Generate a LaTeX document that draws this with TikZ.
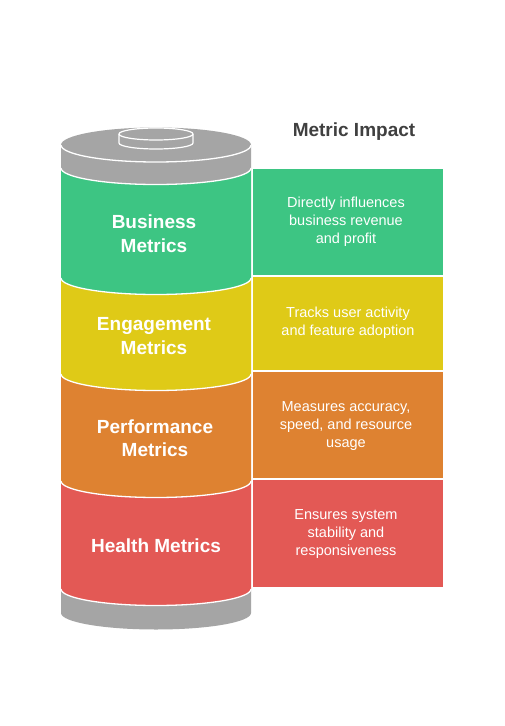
\documentclass[tikz,border=0pt]{standalone}
\usepackage{fontspec}
\setmainfont{Liberation Sans}
\definecolor{cgreen}{HTML}{3DC583}
\definecolor{cyellow}{HTML}{DFCA17}
\definecolor{corange}{HTML}{DE8231}
\definecolor{cred}{HTML}{E35955}
\definecolor{cgray}{HTML}{A5A5A5}
\definecolor{ctitle}{HTML}{404040}
\newcommand\cylseg[4]{%
  \fill[#1] (61,-#2) -- (61,-#3) arc[start angle=180,end angle=360,x radius=95pt,y radius=16.5pt] -- (251,-#2) -- cycle;
  \ifx#4y\draw[white,line width=1.3pt] (61,-#3) arc[start angle=180,end angle=360,x radius=95pt,y radius=16.5pt];\fi
}
\tikzset{
  cyltext/.style={text=white,align=center,inner sep=0pt,font=\bfseries\fontsize{19}{23.5}\selectfont},
  boxtext/.style={text=white,align=center,inner sep=0pt,font=\fontsize{14.5}{18}\selectfont},
}
\begin{document}
\begin{tikzpicture}[x=1pt,y=1pt]
\useasboundingbox (0,0) rectangle (504,-726);
\fill[white] (0,0) rectangle (504,-726);
% cylinder, bottom to top
\cylseg{cgray}{589}{613}{n}
\cylseg{cred}{481}{589}{y}
\cylseg{corange}{374}{481}{y}
\cylseg{cyellow}{278}{374}{y}
\cylseg{cgreen}{168}{278}{y}
\cylseg{cgray}{145}{168}{y}
\fill[cgray] (156,-145) ellipse[x radius=95pt,y radius=17.5pt];
\draw[white,line width=1.3pt] (61,-145) arc[start angle=180,end angle=360,x radius=95pt,y radius=17pt];
% knob
\fill[cgray] (119,-134) -- (119,-143) arc[start angle=180,end angle=360,x radius=37pt,y radius=6pt] -- (193,-134) -- cycle;
\draw[white,line width=1.2pt] (119,-134) -- (119,-143) arc[start angle=180,end angle=360,x radius=37pt,y radius=6pt] -- (193,-134);
\filldraw[fill=cgray,draw=white,line width=1.2pt] (156,-134) ellipse[x radius=37pt,y radius=6pt];
% boxes
\fill[cgreen] (253,-169) rectangle (443,-275);
\fill[cyellow] (253,-277) rectangle (443,-370);
\fill[corange] (253,-372) rectangle (443,-478);
\fill[cred] (253,-480) rectangle (443,-587);
% texts
\node[text=ctitle,font=\bfseries\fontsize{19}{23}\selectfont,inner sep=0pt] (title) at (354,-132) {Metric Impact};
\node[cyltext] (c1) at (154,-233.5) {Business\\Metrics};
\node[cyltext] (c2) at (154,-336) {Engagement\\Metrics};
\node[cyltext] (c3) at (155,-438) {Performance\\Metrics};
\node[cyltext] (c4) at (156,-546) {Health Metrics};
\node[boxtext] (t1) at (346,-222) {Directly influences\\business revenue\\and profit};
\node[boxtext] (t2) at (348,-323) {Tracks user activity\\and feature adoption};
\node[boxtext] (t3) at (346,-426) {Measures accuracy,\\speed, and resource\\usage};
\node[boxtext] (t4) at (346,-534) {Ensures system\\stability and\\responsiveness};
\end{tikzpicture}
\end{document}
